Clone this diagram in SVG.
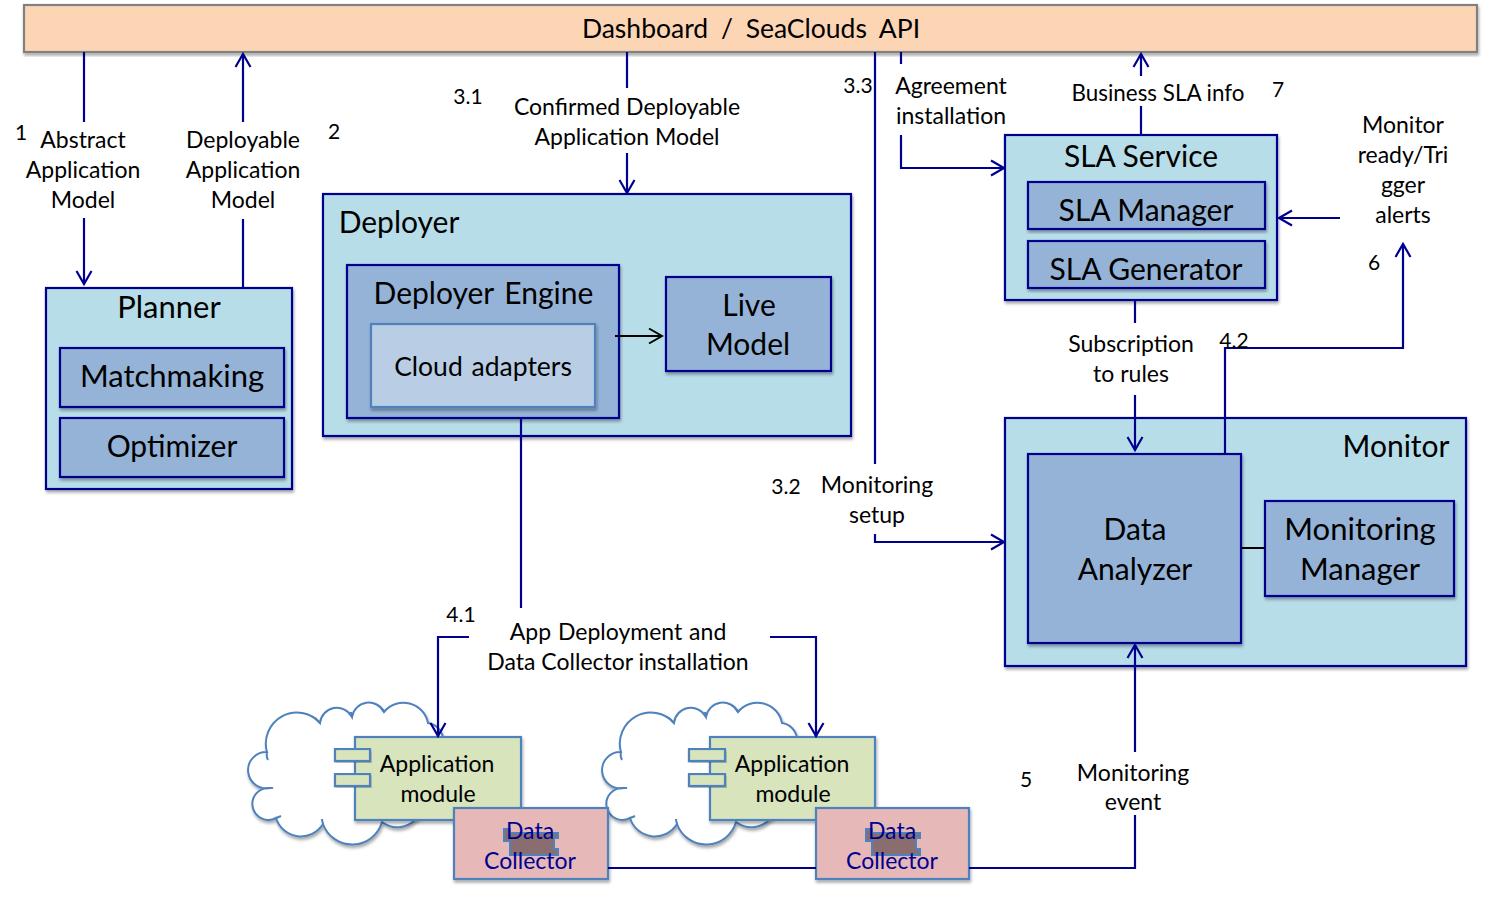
<svg xmlns="http://www.w3.org/2000/svg" xmlns:xlink="http://www.w3.org/1999/xlink" width="1485" height="902" viewBox="0 0 1485 902">
<style>
text{font-family:"Lato","Open Sans","Liberation Sans",sans-serif;fill:#000;text-anchor:middle}
.l{font-size:23px}
.n{font-size:21px}
.h{font-size:30px}
.w{font-size:31px}
.blue{stroke:#00008f;stroke-width:2.2}
.outer{fill:#b7dde8}
.inner{fill:#95b3d7}
.soft{stroke:#4f81bd;stroke-width:2.2}
.app{fill:#d7e4bc}
.dc{fill:#e6b9b8}
.dct{fill:#00008f}
.cn{fill:none;stroke:#00008f;stroke-width:2.2}
.k{fill:none;stroke:#000;stroke-width:2}
.cloud{fill:#fff;stroke:#4f81bd;stroke-width:2}
</style>
<defs>
<filter id="sh" x="-5%" y="-5%" width="110%" height="115%"><feDropShadow dx="1" dy="2.5" stdDeviation="1.8" flood-color="#000" flood-opacity="0.35"/></filter>
<marker id="a" markerUnits="userSpaceOnUse" markerWidth="24" markerHeight="24" refX="17" refY="10" orient="auto" overflow="visible"><path d="M4,2.5 L17,10 L4,17.5" fill="none" stroke="#00008f" stroke-width="2.2"/></marker>
<marker id="b" markerUnits="userSpaceOnUse" markerWidth="24" markerHeight="24" refX="17" refY="10" orient="auto" overflow="visible"><path d="M4,2.5 L17,10 L4,17.5" fill="none" stroke="#000" stroke-width="2"/></marker>
<g id="cloudShape">
<path class="cloud" filter="url(#sh)" d="M267,752 A31,31 0 0 1 320,723 A17,17 0 0 1 352,717 A17,17 0 0 1 384,712 A25,25 0 0 1 428,723 A18,18 0 0 1 443,738 L443,800 L415,820 A25,25 0 0 1 382,822 A31,31 0 0 1 323,824 A26,26 0 0 1 276,818 A16,16 0 1 1 270,788 A18.2,18.2 0 1 1 267,752 Z"/>
<path class="cloud" style="fill:none" d="M267,752 Q266,757 268,760 M320,723 Q317,720 315,718 M352,717 Q351,714 351,712 M384,712 Q383,711 383,709 M270,788 Q274,788 271,788 M276,818 Q279,817 281,816 M323,824 Q322,821 322,819"/>
</g>
</defs>

<g id="dashboard"><rect x="24" y="5" width="1453" height="47" fill="#fcd5b5" stroke="#808080" stroke-width="2.2" filter="url(#sh)"/><text x="751" y="38" style="font-size:26.5px;word-spacing:6px">Dashboard  /  SeaClouds API</text></g>

<g id="planner"><rect class="outer blue" x="46" y="288" width="246" height="201" filter="url(#sh)"/><text class="w" x="169" y="318">Planner</text></g>
<g id="matchmaking"><rect class="inner blue" x="60" y="348" width="224" height="59" filter="url(#sh)"/><text class="w" x="172" y="387">Matchmaking</text></g>
<g id="optimizer"><rect class="inner blue" x="60" y="418" width="224" height="59" filter="url(#sh)"/><text class="h" x="172" y="457">Optimizer</text></g>

<g id="deployer"><rect class="outer blue" x="323" y="194" width="528" height="242" filter="url(#sh)"/><text class="h" x="399" y="233">Deployer</text></g>
<g id="deployer-engine"><rect class="inner blue" x="347" y="265" width="272" height="153" filter="url(#sh)"/><text class="h" x="483.5" y="304" style="word-spacing:3px">Deployer Engine</text></g>
<g id="cloud-adapters"><rect x="371" y="324" width="224" height="83" fill="#b9cde5" class="soft" filter="url(#sh)"/><text x="483" y="376" style="font-size:26.5px;word-spacing:2px">Cloud adapters</text></g>
<g id="live-model"><rect class="inner blue" x="666" y="277" width="165" height="94" filter="url(#sh)"/><text class="h" x="749" y="316">Live</text><text class="h" x="748" y="355">Model</text></g>

<g id="sla-service"><rect class="outer blue" x="1005" y="135" width="272" height="165" filter="url(#sh)"/><text class="h" x="1141" y="167">SLA Service</text></g>
<g id="sla-manager"><rect class="inner blue" x="1028" y="182" width="237" height="47" filter="url(#sh)"/><text class="h" x="1146" y="221">SLA Manager</text></g>
<g id="sla-generator"><rect class="inner blue" x="1028" y="241" width="237" height="47" filter="url(#sh)"/><text class="h" x="1146" y="280">SLA Generator</text></g>

<g id="monitor"><rect class="outer blue" x="1005" y="418" width="461" height="248" filter="url(#sh)"/><text class="h" x="1396" y="457">Monitor</text></g>
<g id="data-analyzer"><rect class="inner blue" x="1028" y="454" width="213" height="189" filter="url(#sh)"/><text class="h" x="1135" y="540">Data</text><text class="h" x="1135" y="580">Analyzer</text></g>
<g id="monitoring-manager"><rect class="inner blue" x="1265" y="501" width="189" height="95" filter="url(#sh)"/><text class="w" x="1360" y="540">Monitoring</text><text class="w" x="1360" y="580">Manager</text></g>

<g id="cloud-1"><use xlink:href="#cloudShape" href="#cloudShape"/></g>
<g id="cloud-2"><use xlink:href="#cloudShape" href="#cloudShape" x="354"/></g>

<g id="app-module-1"><rect class="app soft" x="355" y="737" width="166" height="83" filter="url(#sh)"/><rect class="app soft" x="335" y="749" width="35" height="12" filter="url(#sh)"/><rect class="app soft" x="335" y="774" width="35" height="12" filter="url(#sh)"/><text class="l" x="437" y="772">Application</text><text class="l" x="438" y="802">module</text></g>
<g id="app-module-2"><rect class="app soft" x="710" y="737" width="165" height="83" filter="url(#sh)"/><rect class="app soft" x="689" y="749" width="36" height="12" filter="url(#sh)"/><rect class="app soft" x="689" y="774" width="36" height="12" filter="url(#sh)"/><text class="l" x="792" y="772">Application</text><text class="l" x="793" y="802">module</text></g>

<g id="data-collector-1"><rect class="dc soft" x="454" y="808" width="154" height="71" filter="url(#sh)"/><path fill="#8a6d6f" stroke="#4f81bd" stroke-width="2" d="M504,829H510V833H558V838H554V849H558V855H510V841H504Z"/><text class="l dct" x="530" y="839">Data</text><text class="l dct" x="530" y="869">Collector</text></g>
<g id="data-collector-2"><rect class="dc soft" x="816" y="808" width="153" height="71" filter="url(#sh)"/><path fill="#8a6d6f" stroke="#4f81bd" stroke-width="2" d="M866,829H872V833H920V838H916V849H920V855H872V841H866Z"/><text class="l dct" x="892" y="839">Data</text><text class="l dct" x="892" y="869">Collector</text></g>

<g id="connectors">
<path class="cn" d="M84,52V122"/>
<path class="cn" marker-end="url(#a)" d="M84,218V284"/>
<path class="cn" d="M243,288V219"/>
<path class="cn" marker-end="url(#a)" d="M243,122V54"/>
<path class="cn" d="M627,52V88"/>
<path class="cn" marker-end="url(#a)" d="M627,153V193"/>
<path class="cn" d="M875,52V464"/>
<path class="cn" marker-end="url(#a)" d="M875,534V542H1004"/>
<path class="cn" d="M901,52V64"/>
<path class="cn" marker-end="url(#a)" d="M901,135V168H1004"/>
<path class="cn" d="M1141,135V106"/>
<path class="cn" marker-end="url(#a)" d="M1141,76V54"/>
<path class="cn" marker-end="url(#a)" d="M1340,218H1279"/>
<path class="cn" marker-end="url(#a)" d="M1225,454V348H1403V244"/>
<path class="cn" d="M1135,300V323"/>
<path class="cn" marker-end="url(#a)" d="M1135,395V450"/>
<path class="cn" d="M521,418V608"/>
<path class="cn" marker-end="url(#a)" d="M469,637H438V736"/>
<path class="cn" marker-end="url(#a)" d="M770,637H816V736"/>
<path class="cn" d="M608,868H816"/>
<path class="cn" d="M969,868H1135V815"/>
<path class="cn" marker-end="url(#a)" d="M1135,752V645"/>
<path class="k" marker-end="url(#b)" d="M615,336H662"/>
<path class="k" d="M1241,548H1265"/>
</g>

<g id="labels">
<text class="n" x="21" y="140">1</text>
<text class="l" x="83" y="148">Abstract</text><text class="l" x="83" y="178">Application</text><text class="l" x="83" y="208">Model</text>
<text class="l" x="243" y="148">Deployable</text><text class="l" x="243" y="178">Application</text><text class="l" x="243" y="208">Model</text>
<text class="n" x="334" y="139">2</text>
<text class="n" x="468" y="104">3.1</text>
<text class="l" x="627" y="115">Confirmed Deployable</text><text class="l" x="627" y="145">Application Model</text>
<text class="n" x="858" y="93">3.3</text>
<text class="l" x="951" y="94">Agreement</text><text class="l" x="951" y="124">installation</text>
<text x="1158" y="101" style="font-size:22.4px">Business SLA info</text>
<text class="n" x="1278" y="97">7</text>
<text class="l" x="1403" y="133">Monitor</text><text class="l" x="1403" y="163">ready/Tri</text><text class="l" x="1403" y="193">gger</text><text class="l" x="1403" y="223">alerts</text>
<text class="n" x="1374" y="270">6</text>
<text class="n" x="1234" y="348">4.2</text>
<text class="l" x="1131" y="352">Subscription</text><text class="l" x="1131" y="382">to rules</text>
<text class="n" x="786" y="494">3.2</text>
<text class="l" x="877" y="493">Monitoring</text><text class="l" x="877" y="523">setup</text>
<text class="n" x="461" y="622">4.1</text>
<text class="l" x="618" y="640" style="word-spacing:1px">App Deployment and</text><text class="l" x="618" y="670">Data Collector installation</text>
<text class="n" x="1026" y="787">5</text>
<text class="l" x="1133" y="781">Monitoring</text><text class="l" x="1133" y="810">event</text>
</g>
</svg>
